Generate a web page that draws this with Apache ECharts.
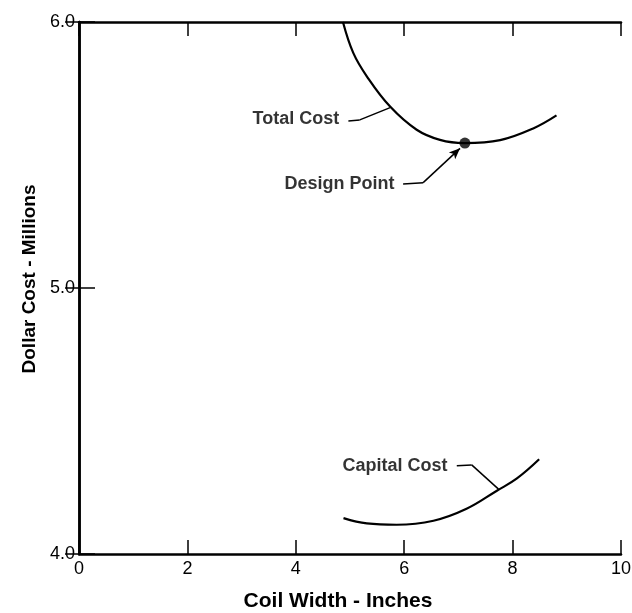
<!DOCTYPE html>
<html>
<head>
<meta charset="utf-8">
<script src="https://cdn.jsdelivr.net/npm/echarts@6/dist/echarts.min.js"></script>
<style>html,body{margin:0;padding:0;background:#fff}#c{width:632px;height:613px}</style>
</head>
<body>
<div id="c"></div>
<script>
// Data
const totalCostX = [4.87, 5.06, 5.31, 5.74, 6.23, 6.66, 7.11, 7.77, 8.38, 8.81];
const totalCostY = [6.00, 5.884, 5.796, 5.682, 5.595, 5.557, 5.545, 5.556, 5.600, 5.649];
const capitalCostX = [4.88, 5.31, 5.86, 6.54, 7.15, 7.71, 8.08, 8.49];
const capitalCostY = [4.135, 4.115, 4.11, 4.125, 4.17, 4.238, 4.284, 4.356];
const designPoint = [7.12, 5.545];
const xTicks = [0, 2, 4, 6, 8, 10];
const yTicks = [4.0, 5.0, 6.0];
const annotationNames = ['Total Cost', 'Design Point', 'Capital Cost'];
const annotationAnchors = [[4.80, 5.636], [5.82, 5.391], [6.80, 4.332]];
const totalLeader = [[4.97, 5.628], [5.18, 5.632], [5.74, 5.678]];
const designLeader = [[5.98, 5.391], [6.35, 5.396], [7.03, 5.525]];
const capitalLeader = [[6.97, 4.332], [7.245, 4.335], [7.74, 4.244]];

const zip = (xs, ys) => xs.map((x, i) => [x, ys[i]]);
function segs(pts, arrow) {
  const out = [];
  for (let i = 0; i < pts.length - 1; i++) {
    const end = {coord: pts[i + 1]};
    if (arrow && i === pts.length - 2) { end.symbol = 'arrow'; end.symbolSize = [7, 11]; }
    out.push([{coord: pts[i]}, end]);
  }
  return out;
}

const tickFont = {fontFamily: 'Liberation Sans', fontSize: 18, color: '#000'};
const axisLine = {show: true, lineStyle: {color: '#000', width: 2.5}};
const chart = echarts.init(document.getElementById('c'), null, {renderer: 'canvas'});
chart.setOption({
  animation: false,
  backgroundColor: '#fff',
  grid: {left: 79, right: 11, top: 22, bottom: 59, outerBoundsMode: 'none', containLabel: false},
  xAxis: [{
    type: 'value', min: xTicks[0], max: xTicks[xTicks.length - 1], interval: 2,
    axisLine: axisLine,
    axisTick: {show: true, inside: true, length: 14, lineStyle: {color: '#000', width: 1.5}},
    axisLabel: Object.assign({margin: 6}, tickFont),
    splitLine: {show: false},
    name: 'Coil Width - Inches', nameLocation: 'middle', nameGap: 37,
    nameTextStyle: {fontFamily: 'Liberation Sans', fontWeight: 'bold', fontSize: 21, color: '#000',
      padding: [0, 24, 0, 0]}
  }, {
    type: 'value', position: 'top', min: 0, max: 10, interval: 2,
    axisLine: axisLine,
    axisTick: {show: true, inside: true, length: 14, lineStyle: {color: '#000', width: 1.5}},
    axisLabel: {show: false}, splitLine: {show: false}
  }],
  yAxis: [{
    type: 'value', min: yTicks[0], max: yTicks[yTicks.length - 1], interval: 1,
    axisLine: axisLine,
    axisTick: {show: true, inside: true, length: 16, lineStyle: {color: '#000', width: 1.5}},
    axisLabel: Object.assign({margin: 4, formatter: v => v.toFixed(1)}, tickFont),
    splitLine: {show: false},
    name: 'Dollar Cost - Millions', nameLocation: 'middle', nameGap: 40,
    nameTextStyle: {fontFamily: 'Liberation Sans', fontWeight: 'bold', fontSize: 19, color: '#000',
      padding: [0, 0, 0, 18]}
  }, {
    type: 'value', position: 'right', min: 4, max: 6, interval: 1,
    axisLine: axisLine,
    axisTick: {show: true, inside: true, length: 14, lineStyle: {color: '#000', width: 1.5}},
    axisLabel: {show: false}, splitLine: {show: false}
  }],
  series: [{
    name: 'Total Cost', type: 'line', smooth: 0.4, showSymbol: false,
    data: zip(totalCostX, totalCostY),
    lineStyle: {color: '#000', width: 2.2}
  }, {
    name: 'Capital Cost', type: 'line', smooth: 0.4, showSymbol: false,
    data: zip(capitalCostX, capitalCostY),
    lineStyle: {color: '#000', width: 2.2}
  }, {
    name: 'Design Point', type: 'scatter', symbolSize: 11,
    itemStyle: {color: '#000'}, data: [designPoint], z: 5
  }, {
    name: 'labels', type: 'scatter', symbolSize: 0, silent: true,
    data: annotationAnchors.map((p, i) => ({value: p, name: annotationNames[i]})),
    label: {show: true, position: 'left', distance: 0, formatter: p => p.name,
      fontFamily: 'Liberation Sans', fontWeight: 'bold', fontSize: 18, color: '#000'},
    markLine: {
      silent: true, symbol: ['none', 'none'], label: {show: false},
      lineStyle: {color: '#000', width: 1.5, type: 'solid'},
      emphasis: {disabled: true},
      data: [].concat(segs(totalLeader, false), segs(designLeader, true), segs(capitalLeader, false))
    }
  }]
});
</script>
</body>
</html>
